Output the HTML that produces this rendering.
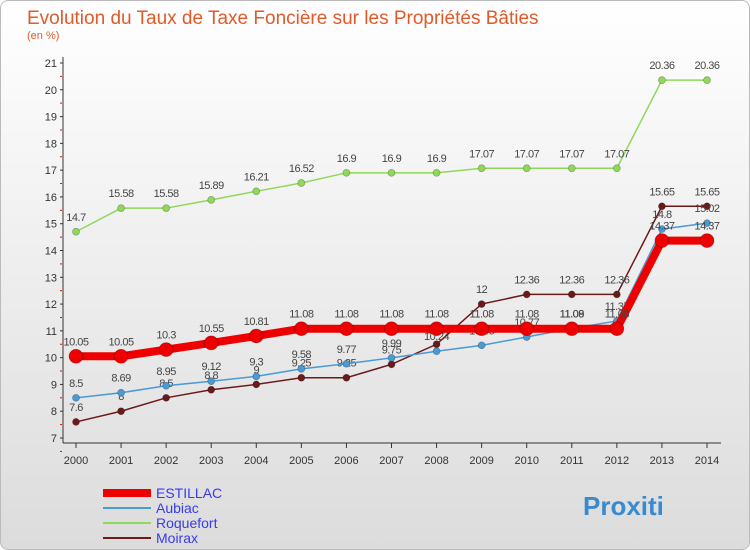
<!DOCTYPE html>
<html><head><meta charset="utf-8"><style>
body{margin:0;width:750px;height:550px;overflow:hidden;font-family:"Liberation Sans",sans-serif}
#wrap{position:absolute;left:0;top:0;width:748px;height:548px;border:1px solid #bbb;border-radius:8px;background:linear-gradient(#fff,#dcdcdc);overflow:hidden}
</style></head><body>
<div id="wrap">
<svg id="c" width="750" height="550"></svg>
</div>
<script>
const years=[2000,2001,2002,2003,2004,2005,2006,2007,2008,2009,2010,2011,2012,2013,2014];
const estillac=[10.05,10.05,10.3,10.55,10.81,11.08,11.08,11.08,11.08,11.08,11.08,11.08,11.08,14.37,14.37];
const aubiac=[8.5,8.69,8.95,9.12,9.3,9.58,9.77,9.99,10.24,10.46,10.77,11.09,11.37,14.8,15.02];
const roquefort=[14.7,15.58,15.58,15.89,16.21,16.52,16.9,16.9,16.9,17.07,17.07,17.07,17.07,20.36,20.36];
const moirax=[7.6,8,8.5,8.8,9,9.25,9.25,9.75,10.5,12,12.36,12.36,12.36,15.65,15.65];
const yTicks=[7,8,9,10,11,12,13,14,15,16,17,18,19,20,21];
const NS="http://www.w3.org/2000/svg";
const svg=document.getElementById('c');
const X=i=>75+i*(706-75)/14;
const Y=v=>437-(v-7)*(437-62)/14;
function el(t,a,p){const e=document.createElementNS(NS,t);for(const k in a)e.setAttribute(k,a[k]);(p||svg).appendChild(e);return e;}
let t=el('text',{x:26,y:23,'font-size':19,fill:'#e05a2a'});t.textContent='Evolution du Taux de Taxe Foncière sur les Propriétés Bâties';

t=el('text',{x:26,y:38,'font-size':11,fill:'#e05a2a'});t.textContent='(en %)';

let a=el('line',{x1:62,y1:56,x2:62,y2:442,stroke:'#333'});
a=el('line',{x1:62,y1:442,x2:720,y2:442,stroke:'#333'});
yTicks.forEach(v=>{const y=Y(v);el('line',{x1:59,y1:y,x2:62,y2:y,stroke:'#333'});
 el('line',{x1:59,y1:y+13.4,x2:61,y2:y+13.4,stroke:'red'});
 const tx=el('text',{x:56,y:y+4,'font-size':11,fill:'#333','text-anchor':'end'});tx.textContent=v;
 });
years.forEach((yr,i)=>{el('line',{x1:X(i),y1:442,x2:X(i),y2:447,stroke:'#333'});
 const tx=el('text',{x:X(i),y:463,'font-size':11,fill:'#333','text-anchor':'middle'});tx.textContent=yr;
 });
function series(d,col,w,r,name){
 const g=el('g',{});
 el('polyline',{points:d.map((v,i)=>X(i)+','+Y(v)).join(' '),fill:'none',stroke:col,'stroke-width':w},g);
 d.forEach((v,i)=>{const c=el('circle',{cx:X(i),cy:Y(v),r:r,fill:col,stroke:'rgba(0,0,0,0.3)','stroke-width':0.7},g);
  
  const tx=el('text',{x:X(i),y:Y(v)-11,'font-size':11,fill:'#444','text-anchor':'middle','letter-spacing':'-0.5'},g);tx.textContent=v;
  });
}
series(roquefort,'#8fd85a',1.5,3.5,'roquefort');
series(moirax,'#6b1a1a',1.5,3.5,'moirax');
series(aubiac,'#4a9ad4',1.5,3.5,'aubiac');
series(estillac,'#ee0000',8,7,'estillac');
const leg=[['ESTILLAC','#ee0000',8],['Aubiac','#4a9ad4',2],['Roquefort','#8fd85a',2],['Moirax','#6b1a1a',2]];
leg.forEach((l,i)=>{const y=492+i*15;const g=el('g',{});
 el('line',{x1:102,y1:y,x2:150,y2:y,stroke:l[1],'stroke-width':l[2]},g);
 const tx=el('text',{x:155,y:y+5,'font-size':14,fill:'#3a3aee'},g);tx.textContent=l[0];});
t=el('text',{x:582,y:514,'font-size':26,'font-weight':'bold',fill:'#3a8ad0'});t.textContent='Proxiti';

</script>
</body></html>
